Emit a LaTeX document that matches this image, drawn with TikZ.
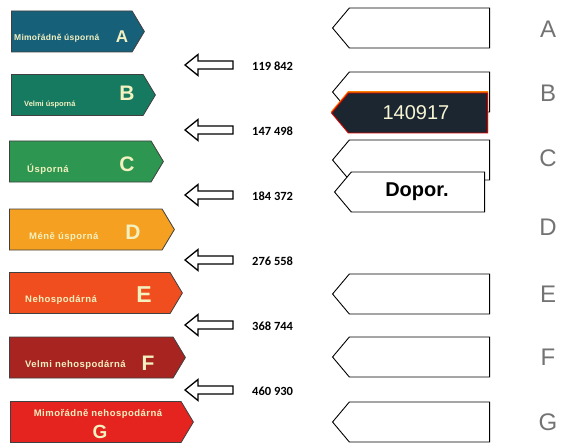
\documentclass[tikz,border=0pt]{standalone}
\usepackage{fontspec}
\setmainfont{Liberation Sans}
\newfontfamily\numfont{Carlito}
\usetikzlibrary{arrows.meta,positioning,shapes.symbols,calc}

\definecolor{clsA}{HTML}{17607A}
\definecolor{clsB}{HTML}{157A60}
\definecolor{clsC}{HTML}{2D9650}
\definecolor{clsD}{HTML}{F5A020}
\definecolor{clsE}{HTML}{F04E1E}
\definecolor{clsF}{HTML}{A82421}
\definecolor{clsG}{HTML}{E52420}
\definecolor{paletxt}{HTML}{F4F1C0}
\definecolor{darkbox}{HTML}{1B2630}

\tikzset{
  hollow/.pic={\draw[line width=1.3pt, fill=white, line join=miter]
    (-24,0) -- (-11,-10.5) -- (-11,-4) -- (24,-4) -- (24,4) -- (-11,4) -- (-11,10.5) -- cycle;}}

\begin{document}
\begin{tikzpicture}[x=1pt, y=-1pt,
  band/.style={signal, signal to=east, signal pointer angle=118, draw=black!75, line width=0.8pt,
    minimum height=41pt, inner sep=0pt, anchor=west},
  slot/.style={signal, signal to=west, signal pointer angle=100, draw=black, line width=0.9pt,
    fill=white, minimum height=40pt, minimum width=157pt, inner sep=0pt, anchor=east},
  lbl/.style={anchor=west, text=paletxt, inner sep=0pt,
    font=\fontsize{9.5}{10}\selectfont\bfseries\addfontfeature{LetterSpace=5}},
  big/.style={text=paletxt, font=\fontsize{21}{21}\selectfont\bfseries, inner sep=0pt},
  val/.style={anchor=west, font=\numfont\fontsize{12.5}{13}\selectfont\bfseries, inner sep=0pt},
  cls/.style={text=black!55, font=\fontsize{24}{24}\selectfont, inner sep=0pt}]
\useasboundingbox (0,0) rectangle (563,444);

% left scale
\node[band, fill=clsA, minimum width=133pt] (bA) at (11,31.5) {};
\node[lbl, font=\fontsize{8.5}{9}\selectfont\bfseries\addfontfeature{LetterSpace=3}] (tA) at (14,38.5) {Mimořádně úsporná};
\node[big, font=\fontsize{17}{17}\selectfont\bfseries] at (122,37) {A};

\node[band, fill=clsB, minimum width=144pt] (bB) at (11,95) {};
\node[lbl, font=\fontsize{7.5}{8}\selectfont\bfseries] (tB) at (24,104.5) {Velmi úsporná};
\node[big] at (127,93) {B};

\node[band, fill=clsC, minimum width=154pt] (bC) at (9,161.5) {};
\node[lbl] (tC) at (27,169) {Úsporná};
\node[big] at (127,164) {C};

\node[band, fill=clsD, minimum width=165pt] (bD) at (9,229.5) {};
\node[lbl] (tD) at (29,237) {Méně úsporná};
\node[big] at (133,232) {D};

\node[band, fill=clsE, minimum width=173pt] (bE) at (9,293) {};
\node[lbl] (tE) at (25,300) {Nehospodárná};
\node[big, font=\fontsize{23}{23}\selectfont\bfseries] at (144,295) {E};

\node[band, fill=clsF, minimum width=176pt] (bF) at (9,357.5) {};
\node[lbl] (tF) at (25,365) {Velmi nehospodárná};
\node[big] at (148,363) {F};

\node[band, fill=clsG, minimum width=183pt] (bG) at (10,422) {};
\node[lbl, anchor=center] (tG) at (98,414) {Mimořádně nehospodárná};
\node[big, font=\fontsize{19}{19}\selectfont\bfseries] at (100,431.5) {G};

% thresholds
\pic (h1) at (209,65) {hollow};
\node[val] (v1) at (252,66) {119 842};
\pic (h2) at (209,130) {hollow};
\node[val] (v2) at (252,131) {147 498};
\pic (h3) at (209,195) {hollow};
\node[val] (v3) at (252,196) {184 372};
\pic (h4) at (209,260) {hollow};
\node[val] (v4) at (252,261) {276 558};
\pic (h5) at (209,325) {hollow};
\node[val] (v5) at (252,326) {368 744};
\pic (h6) at (209,390) {hollow};
\node[val] (v6) at (252,391) {460 930};

% right column
\node[slot] (sA) at (490,28) {};
\node[slot] (sB) at (490,92) {};
\node[slot, draw=orange, fill=orange, minimum width=156pt] (mk0) at (488,111.5) {};
\node[slot, draw=red!85!black, fill=darkbox, minimum width=156pt, text=paletxt!70!white,
  font=\fontsize{20}{20}\selectfont] (mk) at (488,113) {\hspace*{-4pt}140917};
\node[slot] (sC) at (490,160) {};
\node[slot, minimum width=150pt, font=\fontsize{20}{20}\selectfont\bfseries] (rec) at (485,192) {\hspace*{-2pt}Dopor.};
\node[slot] (sE) at (490,294) {};
\node[slot] (sF) at (490,357) {};
\node[slot] (sG) at (490,422) {};

\node[cls] (cA) at (548,29) {A};
\node[cls] (cB) at (548,93) {B};
\node[cls] (cC) at (548,158) {C};
\node[cls] (cD) at (548,227) {D};
\node[cls] (cE) at (548,294) {E};
\node[cls] (cF) at (548,357) {F};
\node[cls] (cG) at (548,422) {G};
\end{tikzpicture}
\end{document}
